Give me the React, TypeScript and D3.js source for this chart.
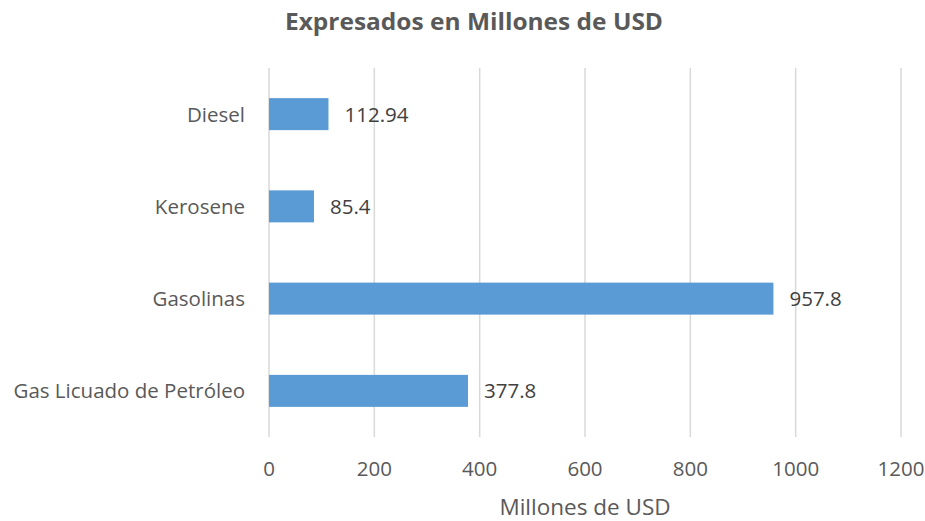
import React from "react";
import * as d3 from "d3";

const categories = ["Diesel", "Kerosene", "Gasolinas", "Gas Licuado de Petróleo"];
const values = [112.94, 85.4, 957.8, 377.8];
const valueLabels = ["112.94", "85.4", "957.8", "377.8"];
const xTicks = [0, 200, 400, 600, 800, 1000, 1200];

const W = 925, H = 521;
const left = 269, right = 901, top = 68, bottom = 437;
const font = "'Open Sans', sans-serif";

export default function App() {
  const x = d3.scaleLinear().domain([0, 1200]).range([left, right]);
  const y = d3.scaleBand().domain(categories).range([top, bottom]).paddingInner(0.653).paddingOuter(0.3265);
  return (
    <svg width={W} height={H} style={{ position: "absolute", left: 0, top: 0 }}>
      <rect width={W} height={H} fill="#fff" />
      <text x={474} y={30} textAnchor="middle" fontFamily={font} fontWeight="bold" fontSize={23.5} fill="#595959" textLength={378} lengthAdjust="spacingAndGlyphs">Expresados en Millones de USD</text>
      {xTicks.map(t => (
        <line key={t} x1={x(t)} x2={x(t)} y1={top} y2={bottom} stroke="#d9d9d9" strokeWidth={1.5} />
      ))}
      {categories.map((c, i) => (
        <g key={c}>
          <rect x={x(0)} y={y(c)!} width={x(values[i]) - x(0)} height={y.bandwidth()} fill="#5b9bd5" />
          <text x={x(values[i]) + 16} y={y(c)! + y.bandwidth() / 2} dy="0.36em" fontFamily={font} fontSize={20.5} fill="#404040">{valueLabels[i]}</text>
          <text x={245} y={y(c)! + y.bandwidth() / 2} dy="0.36em" textAnchor="end" fontFamily={font} fontSize={20.5} fill="#595959">{c}</text>
        </g>
      ))}
      {xTicks.map(t => (
        <text key={t} x={x(t)} y={476} textAnchor="middle" fontFamily={font} fontSize={20.5} fill="#595959">{t}</text>
      ))}
      <text x={585} y={515} textAnchor="middle" fontFamily={font} fontSize={22.5} fill="#595959">Millones de USD</text>
    </svg>
  );
}
